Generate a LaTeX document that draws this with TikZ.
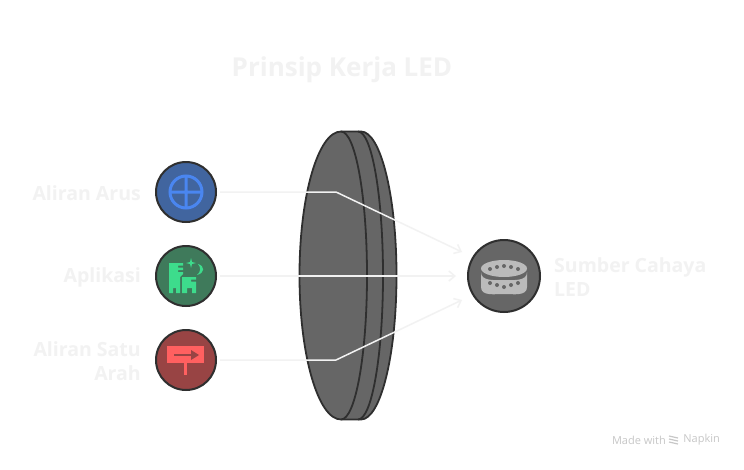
\documentclass[tikz,border=0pt]{standalone}
\usepackage{fontspec}
\setmainfont{Open Sans}
\usetikzlibrary{arrows.meta}
\definecolor{faint}{HTML}{F2F2F2}
\definecolor{rim}{HTML}{2F2F2F}
\definecolor{lens}{HTML}{666666}
\definecolor{arusfill}{HTML}{41659F}
\definecolor{arusicon}{HTML}{4A86F0}
\definecolor{appfill}{HTML}{3F7A5B}
\definecolor{appicon}{HTML}{3DDC8C}
\definecolor{arahfill}{HTML}{984444}
\definecolor{arahicon}{HTML}{FF6060}
\definecolor{ledicon}{HTML}{BBBBBB}
\tikzset{
    hub/.style={circle,draw=rim,line width=2pt,minimum size=60pt,inner sep=0pt},
    lbl/.style={text=faint,font=\fontsize{19.5}{23.5}\selectfont\bfseries,align=right,anchor=east,inner sep=0pt},
    conn/.style={draw=faint,line width=1.5pt,line join=round},
    lensline/.style={draw=rim,line width=1.8pt}
}
\begin{document}
\begin{tikzpicture}[x=1pt,y=-1pt]
    \useasboundingbox[fill=white] (0,0) rectangle (744,469);

    \node[text=faint,font=\fontsize{26}{30}\selectfont\bfseries,inner sep=0pt] (title) at (342,70) {Prinsip Kerja LED};

    % lens
    \filldraw[fill=lens,lensline] (341,131.5) -- (361,131.5) arc[start angle=-90,end angle=90,x radius=35.5,y radius=144]
        -- (341,419.5) arc[start angle=90,end angle=270,x radius=41.5,y radius=144] -- cycle;
    \draw[lensline] (341,131.5) arc[start angle=-90,end angle=90,x radius=26,y radius=144];
    \draw[lensline] (358,131.5) arc[start angle=-90,end angle=90,x radius=25,y radius=144];

    % circles
    \node[hub,fill=arusfill] (arus) at (186,192) {};
    \node[hub,fill=appfill] (app) at (186,276) {};
    \node[hub,fill=arahfill] (arah) at (186,360) {};
    \node[hub,fill=lens,minimum size=72pt] (led) at (504,276) {};

    % labels
    \node[lbl] (arustxt) at (141,193) {Aliran Arus};
    \node[lbl] (apptxt) at (141,277) {Aplikasi};
    \node[lbl] (arahtxt) at (141,361) {Aliran Satu\\Arah};
    \node[lbl,align=left,anchor=west] (ledtxt) at (554,277) {Sumber Cahaya\\LED};
    \node[text=black!22,font=\fontsize{11}{13}\selectfont,inner sep=0pt,anchor=east] (madetxt) at (666,440) {Made with};
    \node[text=black!22,font=\fontsize{11}{13}\selectfont,inner sep=0pt,anchor=east] (napkintxt) at (720,440) {Napkin};

    % connectors
    \coordinate (arusbend) at (336,192);
    \coordinate (arahbend) at (336,360);
    \coordinate (ledtop) at (462,252);
    \coordinate (ledmid) at (456,276);
    \coordinate (ledbot) at (462,300);
    \draw[conn,-{Straight Barb[length=6pt,width=10pt]},shorten <=3pt] (arus.east) -- (arusbend) -- (ledtop);
    \draw[conn,-{Straight Barb[length=6pt,width=10pt]},shorten <=3pt] (app.east) -- (ledmid);
    \draw[conn,-{Straight Barb[length=6pt,width=10pt]},shorten <=3pt] (arah.east) -- (arahbend) -- (ledbot);

    % icons
    \draw[arusicon,line width=3pt] (186,192) circle (16) (170,192) -- (202,192) (186,176) -- (186,208);

    \fill[appicon] (169,263) -- (183,263) -- (183,265.5) -- (178,265.5) -- (178,267.5) -- (183,267.5) -- (183,270) -- (178,270) -- (178,272) -- (183,272)
        -- (183,274) -- (180,277) -- (180,293) -- (176,293) -- (176,288) -- (173,288) -- (173,293) -- (169,293) -- cycle;
    \fill[appicon] (182,277) -- (196,277) -- (196,279.5) -- (191,279.5) -- (191,281.5) -- (196,281.5) -- (196,293) -- (192,293) -- (192,288) -- (187,288) -- (187,293) -- (182,293) -- cycle;
    \fill[appicon] (191,258) -- (192,262) -- (196,263) -- (192,264) -- (191,268) -- (190,264) -- (186,263) -- (190,262) -- cycle;
    \fill[appicon] (198,264) .. controls (205,266) and (205,273) .. (197,275) .. controls (201,272) and (201,267) .. (198,264) -- cycle;

    \fill[arahicon] (167,346) rectangle (204,363);
    \fill[arahicon] (184,363) rectangle (187,375);
    \draw[arahfill,line width=2pt] (174,355) -- (192,355);
    \fill[arahfill] (191,350) -- (199,355) -- (191,360) -- cycle;

    \fill[ledicon] (504,268.5) ellipse (23 and 8.5);
    \fill[ledicon] (481,272) to[out=-90,in=180] (504,280) to[out=0,in=-90] (527,272) -- (527,287)
        to[out=-90,in=0] (504,294) to[out=180,in=-90] (481,287) -- cycle;
    \foreach \px/\py in {490/269,497/267,504/266,511/267,518/269,490/283,497/285,504/287,511/285,518/283}
        \fill[lens] (\px,\py) circle (2);

    % logo
    \foreach \ly in {436,439,442}
        \draw[black!22,line width=1.2pt] (669,\ly) -- (678,\ly+2);
\end{tikzpicture}
\end{document}
